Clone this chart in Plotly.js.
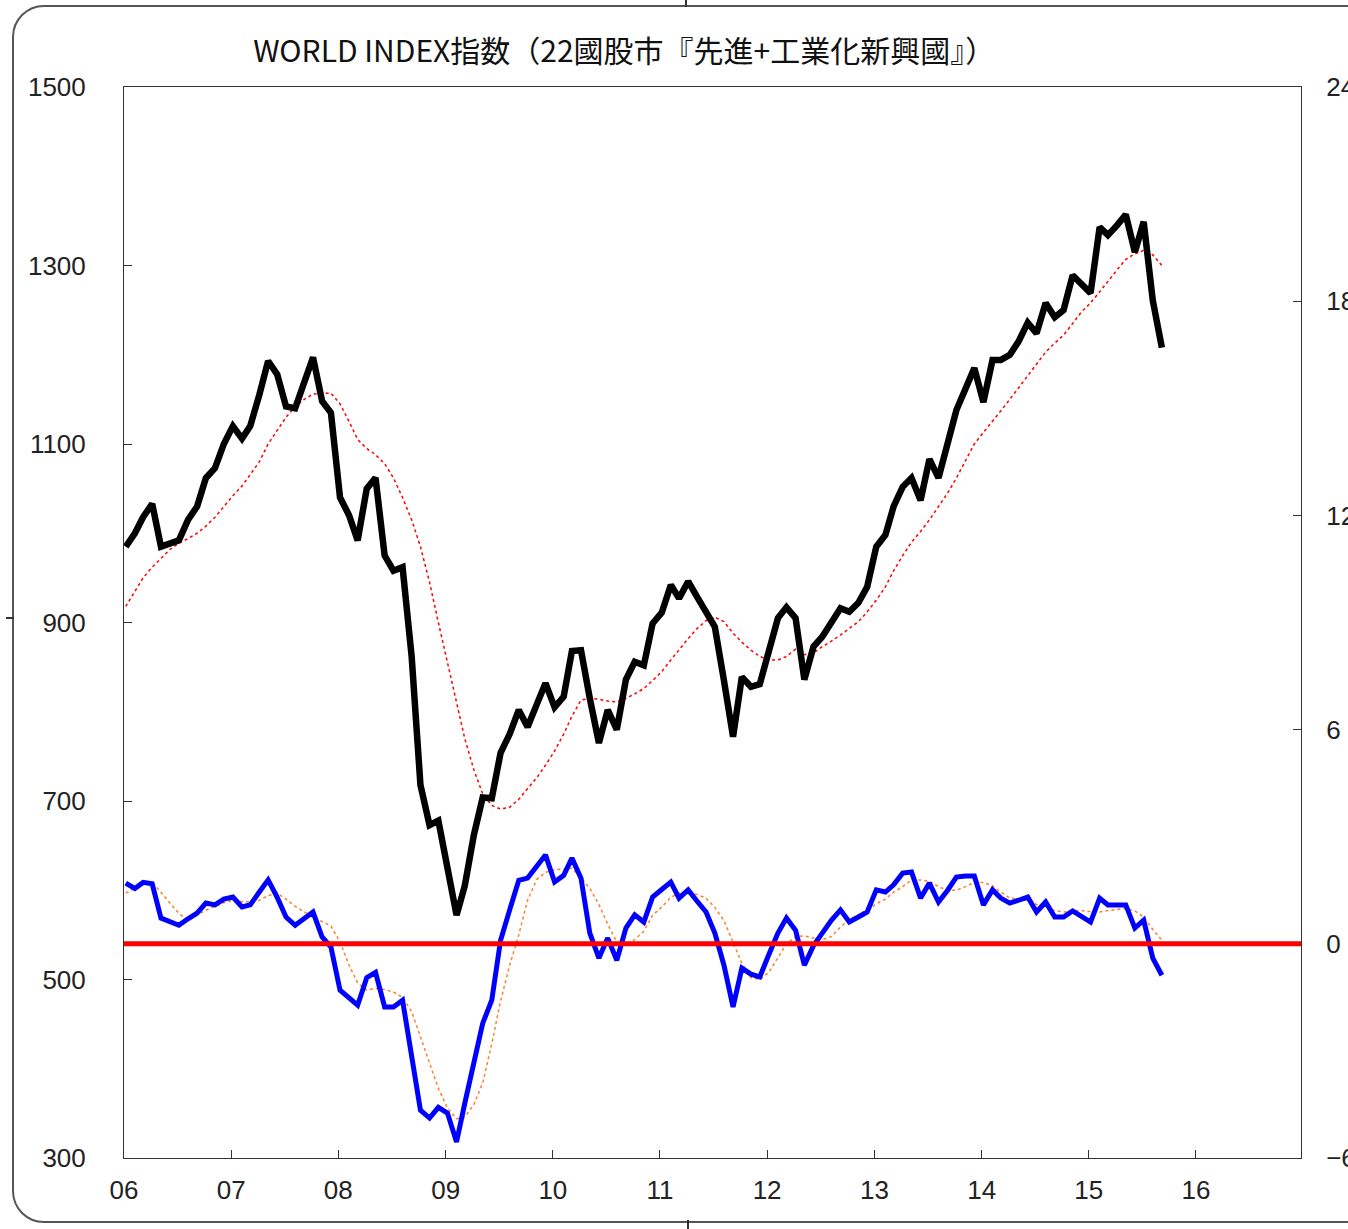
<!DOCTYPE html>
<html>
<head>
<meta charset="utf-8">
<script src="https://cdn.plot.ly/plotly-3.0.1.min.js"></script>
<style>
  html, body { margin: 0; padding: 0; background: #ffffff; overflow: hidden; }
  #wrap { position: relative; width: 1348px; height: 1229px; }
  #chart { position: absolute; left: 0; top: 0; width: 1348px; height: 1229px; }
  #frame { position: absolute; left: 12px; top: 5px; width: 1420px; height: 1218px;
           border: 2px solid #555; border-radius: 32px; pointer-events: none; box-sizing: border-box; }
  .mark { position: absolute; background: #333; pointer-events: none; }
</style>
</head>
<body>
<div id="wrap">
  <div id="chart"></div>
  <div id="frame"></div>
  <div class="mark" style="left:685px; top:0px; width:2px; height:7px;"></div>
  <div class="mark" style="left:687px; top:1220px; width:2px; height:9px;"></div>
  <div class="mark" style="left:6px; top:617px; width:8px; height:2px;"></div>
</div>
<script>
// ---- Data (monthly, Jan 2006 .. Sep 2015) ----
const startYear = 2006;
const monthCount = 117;

// World index (left axis)
const worldIndex = [
  985, 1000, 1018, 1033, 985, 988, 992, 1015, 1030, 1062, 1073, 1100,
  1120, 1106, 1120, 1155, 1193, 1178, 1142, 1140, 1172, 1197, 1148, 1135,
  1040, 1020, 992, 1050, 1062, 975, 958, 962, 862, 718, 673, 678,
  625, 572, 605, 662, 704, 703, 754, 775, 802, 783, 808, 832,
  805, 817, 868, 869, 815, 765, 802, 780, 836, 856, 852, 899,
  911, 942, 927, 946, 929, 912, 895, 835, 772, 839, 828, 831,
  868, 905, 917, 905, 836, 873, 884, 900, 916, 912, 922, 940,
  985, 998, 1030, 1052, 1062, 1037, 1083, 1062, 1100, 1138, 1162, 1185,
  1147, 1194, 1194, 1200, 1215, 1236, 1224, 1258, 1242, 1250, 1289, 1278,
  1269, 1343, 1334, 1345, 1357, 1315, 1349, 1261, 1208
];

// Moving average of the index (red dotted, left axis)
const worldAvg = [
  918, 935, 950, 962, 972, 982, 989, 994, 1000, 1008, 1018, 1030,
  1042, 1053, 1066, 1080, 1100, 1115, 1130, 1142, 1150, 1156, 1157, 1157,
  1145, 1125, 1105, 1095, 1088, 1078, 1062, 1040, 1015, 985, 945, 900,
  855, 810, 770, 735, 708, 695, 691, 693, 702, 714, 726, 740,
  756, 775, 795, 813, 815, 814, 812, 811, 815, 820, 826, 835,
  845, 858, 870, 882, 893, 902, 906, 901, 888, 878, 869, 862,
  858, 858, 862, 870, 864, 866, 873, 879, 886, 893, 901, 912,
  925, 940, 958, 975, 990, 1002, 1015, 1030, 1045, 1062, 1082, 1100,
  1113, 1125, 1137, 1150, 1163, 1177, 1190, 1203, 1213, 1222, 1235, 1248,
  1258, 1270, 1282, 1295, 1307, 1313, 1317, 1312, 1300
];

// Momentum indicator (blue, right axis)
const momentum = [
  1.70, 1.55, 1.72, 1.68, 0.72, 0.60, 0.52, 0.70, 0.86, 1.14, 1.09, 1.25,
  1.31, 1.03, 1.09, 1.45, 1.79, 1.30, 0.75, 0.52, 0.72, 0.89, 0.19, -0.09,
  -1.30, -1.50, -1.72, -0.95, -0.80, -1.77, -1.77, -1.58, -3.10, -4.66, -4.88, -4.58,
  -4.74, -5.55, -4.47, -3.26, -2.23, -1.58, 0.10, 0.95, 1.78, 1.84, 2.15, 2.49,
  1.73, 1.92, 2.40, 1.84, 0.30, -0.40, 0.16, -0.46, 0.44, 0.81, 0.61, 1.31,
  1.52, 1.73, 1.28, 1.51, 1.20, 0.89, 0.30, -0.60, -1.77, -0.68, -0.85, -0.93,
  -0.30, 0.30, 0.72, 0.38, -0.60, -0.05, 0.30, 0.66, 0.95, 0.61, 0.75, 0.89,
  1.51, 1.45, 1.65, 1.98, 2.01, 1.28, 1.70, 1.17, 1.50, 1.87, 1.90, 1.90,
  1.09, 1.51, 1.28, 1.14, 1.22, 1.31, 0.89, 1.17, 0.75, 0.75, 0.92, 0.75,
  0.61, 1.28, 1.09, 1.09, 1.09, 0.44, 0.66, -0.40, -0.88
];

// Moving average of the indicator (orange dotted, right axis)
const momentumAvg = [
  1.42, 1.55, 1.68, 1.73, 1.45, 1.15, 0.85, 0.66, 0.80, 0.94, 1.05, 1.15,
  1.22, 1.18, 1.18, 1.22, 1.35, 1.42, 1.25, 1.05, 0.90, 0.75, 0.62, 0.50,
  0.05, -0.60, -1.10, -1.30, -1.25, -1.28, -1.35, -1.50, -1.90, -2.60, -3.30, -4.05,
  -4.60, -4.90, -4.85, -4.50, -3.90, -2.80, -1.60, -0.60, 0.25, 1.22, 1.80, 2.00,
  2.07, 2.10, 2.12, 1.85, 1.55, 1.10, 0.55, 0.05, -0.05, 0.12, 0.35, 0.80,
  1.03, 1.30, 1.43, 1.45, 1.38, 1.28, 1.02, 0.65, 0.05, -0.55, -0.95, -1.00,
  -0.80, -0.37, 0.00, 0.20, 0.22, 0.16, 0.12, 0.20, 0.47, 0.68, 0.82, 0.94,
  1.12, 1.25, 1.45, 1.60, 1.79, 1.79, 1.75, 1.60, 1.50, 1.50, 1.60, 1.72,
  1.72, 1.62, 1.45, 1.28, 1.25, 1.22, 1.10, 1.03, 0.93, 0.89, 0.92, 0.93,
  0.90, 0.89, 0.93, 0.96, 0.99, 0.92, 0.75, 0.40, 0.10
];

// Axis ticks
const yearTicks = ['2006-01-01','2007-01-01','2008-01-01','2009-01-01','2010-01-01','2011-01-01',
                   '2012-01-01','2013-01-01','2014-01-01','2015-01-01','2016-01-01'];
const yearLabels = ['06','07','08','09','10','11','12','13','14','15','16'];
const leftTicks = [300, 500, 700, 900, 1100, 1300, 1500];
const rightTicks = [-6, 0, 6, 12, 18, 24];

const titleText = 'WORLD INDEX指数（22國股市『先進+工業化新興國』）';

// month dates
const months = [];
for (let i = 0; i < monthCount; i++) {
  const y = startYear + Math.floor(i / 12);
  const m = (i % 12) + 1;
  months.push(y + '-' + (m < 10 ? '0' + m : m) + '-07');
}

const tickFont = { family: 'Liberation Sans, Arial, sans-serif', size: 26, color: '#222' };

const traces = [
  { x: months, y: worldAvg, type: 'scatter', mode: 'lines', yaxis: 'y',
    line: { color: '#ff0000', width: 1.5, dash: 'dot' }, hoverinfo: 'skip' },
  { x: months, y: worldIndex, type: 'scatter', mode: 'lines', yaxis: 'y',
    line: { color: '#000000', width: 6.5 }, hoverinfo: 'skip' },
  { x: months, y: momentumAvg, type: 'scatter', mode: 'lines', yaxis: 'y2',
    line: { color: '#ff7f27', width: 1.5, dash: 'dot' }, hoverinfo: 'skip' },
  { x: months, y: momentum, type: 'scatter', mode: 'lines', yaxis: 'y2',
    line: { color: '#0000ff', width: 5 }, hoverinfo: 'skip' }
];

const layout = {
  width: 1348, height: 1229,
  margin: { l: 124, r: 47, t: 87, b: 71, pad: 0 },
  paper_bgcolor: '#ffffff', plot_bgcolor: '#ffffff',
  showlegend: false,
  title: {
    text: titleText,
    font: { family: 'Noto Sans CJK JP, sans-serif', size: 30, color: '#111' },
    x: 0.425, xref: 'paper', xanchor: 'center',
    y: 1 - 51 / 1229, yref: 'container', yanchor: 'middle'
  },
  xaxis: {
    type: 'date', range: ['2006-01-01', '2016-12-24'],
    tickmode: 'array', tickvals: yearTicks, ticktext: yearLabels,
    ticks: 'inside', ticklen: 8, tickwidth: 1, tickcolor: '#333',
    showline: true, linecolor: '#333', linewidth: 1, mirror: true,
    showgrid: false, zeroline: false, tickfont: tickFont, ticklabelstandoff: 9
  },
  yaxis: {
    range: [300, 1500], tickmode: 'array', tickvals: leftTicks,
    ticks: 'inside', ticklen: 8, tickwidth: 1, tickcolor: '#333',
    showline: true, linecolor: '#333', linewidth: 1,
    showgrid: false, zeroline: false, tickfont: tickFont, ticklabelstandoff: 32
  },
  yaxis2: {
    overlaying: 'y', side: 'right', anchor: 'x',
    range: [-6, 24], tickmode: 'array', tickvals: rightTicks,
    ticks: 'inside', ticklen: 8, tickwidth: 1, tickcolor: '#333',
    showline: true, linecolor: '#333', linewidth: 1,
    showgrid: false, zeroline: false, tickfont: tickFont, ticklabelstandoff: 19
  },
  shapes: [
    { type: 'line', xref: 'paper', x0: 0, x1: 1, yref: 'y2', y0: 0, y1: 0,
      line: { color: '#ff0000', width: 5 }, layer: 'above' }
  ]
};

Plotly.newPlot('chart', traces, layout, { staticPlot: true, displayModeBar: false });
</script>
</body>
</html>
